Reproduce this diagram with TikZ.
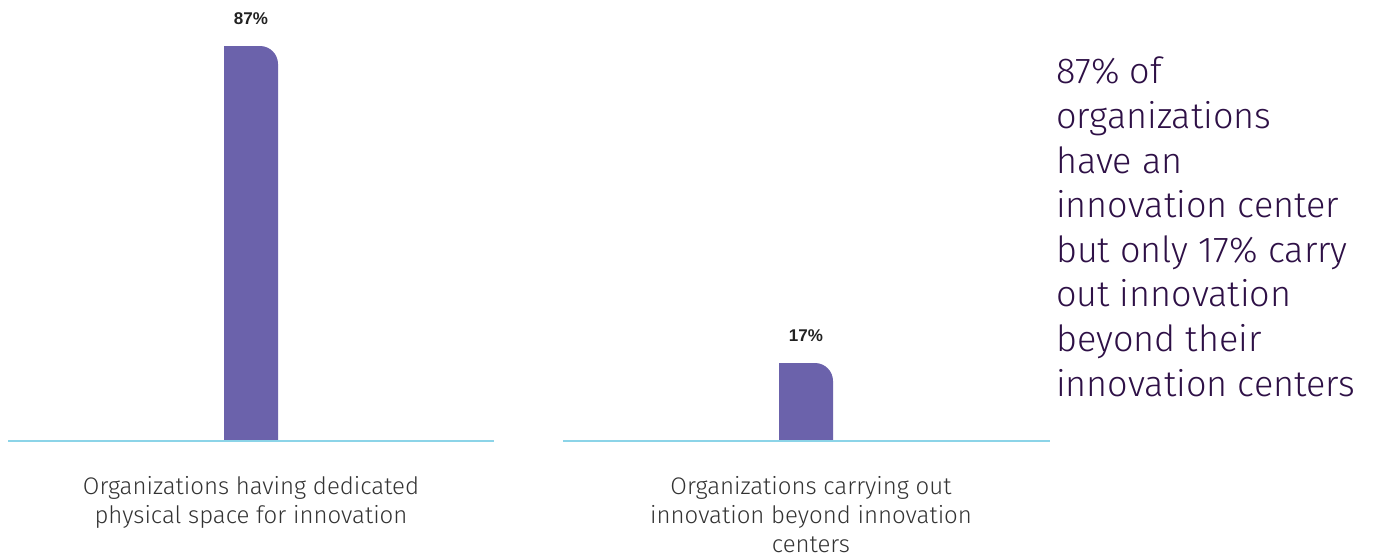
\documentclass[tikz,border=0pt]{standalone}
\usepackage{fontspec}
\setmainfont{Fira Sans}[UprightFont=* Light]
\newfontfamily\pctfont{Liberation Sans}
\definecolor{barpurple}{RGB}{107,98,171}
\definecolor{axisblue}{RGB}{140,212,232}
\definecolor{labelgray}{RGB}{51,51,51}
\definecolor{notepurple}{RGB}{46,16,70}
\definecolor{pctdark}{RGB}{34,34,34}
\tikzset{
  bar/.style={fill=barpurple, draw=none},
  axisline/.style={draw=axisblue, line width=1.6pt},
  pctlabel/.style={font=\pctfont\bfseries\fontsize{17}{19}\selectfont, text=pctdark, inner sep=0pt},
  catlabel/.style={font=\fontsize{24}{29}\selectfont, text=labelgray, align=center, inner sep=0pt, anchor=north},
  notetext/.style={font=\fontsize{36}{44.6}\selectfont, text=notepurple, align=left, inner sep=0pt, anchor=north west}
}
\begin{document}
\begin{tikzpicture}[x=1pt,y=-1pt]
\useasboundingbox (0,0) rectangle (1373,558);
% axes
\coordinate (a1l) at (8,441);
\coordinate (a1r) at (494,441);
\coordinate (a2l) at (563,441);
\coordinate (a2r) at (1050,441);
% bars
\fill[bar] (224,441) -- (224,46) [rounded corners=18pt] -- (278,46) [sharp corners] -- (278,441) -- cycle;
\fill[bar] (779,441) -- (779,363) [rounded corners=18pt] -- (833,363) [sharp corners] -- (833,441) -- cycle;
\draw[axisline] (a1l) -- (a1r);
\draw[axisline] (a2l) -- (a2r);
% value labels
\node[pctlabel] (p1) at (251,19) {87\%};
\node[pctlabel] (p2) at (806,336) {17\%};
% category labels
\node[catlabel] (c1) at (251,476) {Organizations having dedicated\\physical space for innovation};
\node[catlabel] (c2) at (811,476) {Organizations carrying out\\innovation beyond innovation\\centers};
% note
\node[notetext] (note) at (1056,57) {87\% of\\organizations\\have an\\innovation center\\but only 17\% carry\\out innovation\\beyond their\\innovation centers};
\end{tikzpicture}
\end{document}
